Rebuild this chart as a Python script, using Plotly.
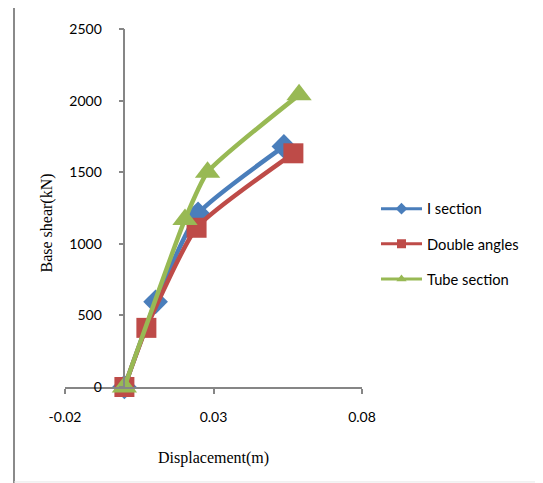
import plotly.graph_objects as go

# ---- data ----
series_names = ["I section", "Double angles", "Tube section"]
i_disp = [0.0, 0.0105, 0.0248, 0.0537]
i_shear = [0, 595, 1210, 1680]
da_disp = [0.0, 0.0074, 0.0243, 0.0569]
da_shear = [0, 413, 1112, 1632]
tube_disp = [0.0, 0.0204, 0.0280, 0.0588]
tube_shear = [0, 1170, 1500, 2040]
x_ticks = [-0.02, 0.03, 0.08]
x_tick_labels = ["-0.02", "0.03", "0.08"]
y_ticks = [0, 500, 1000, 1500, 2000, 2500]

colors = ["#4A7EBB", "#BE4B48", "#98B954"]
symbols = ["diamond", "square", "triangle-up"]
sizes = [19, 20, 22]

xs = [i_disp, da_disp, tube_disp]
ys = [i_shear, da_shear, tube_shear]

fig = go.Figure()
for name, x, y, c, s, sz in zip(series_names, xs, ys, colors, symbols, sizes):
    fig.add_trace(go.Scatter(
        x=x, y=y, mode="lines+markers", name=name, showlegend=False,
        line=dict(color=c, width=4.5, shape="spline", smoothing=0.5),
        marker=dict(symbol=s, size=sz, color=c, line=dict(width=0)),
        cliponaxis=False,
    ))
# legend glyphs (smaller, as in the reference)
for i, (name, c, s) in enumerate(zip(series_names, colors, symbols)):
    fig.add_trace(go.Scatter(
        x=[None], y=[None], mode="lines+markers", name=name,
        legendgroup=f"g{i}",
        line=dict(color=c, width=3),
        marker=dict(symbol=s, size=9, color=c),
    ))

axis_col = "#868686"
font_ticks = dict(family="Lato", size=14, color="#000000")

# plot area: 297 x 358 px (page body adds an 8px offset)
fig.update_layout(
    width=543, height=483,
    margin=dict(l=57, r=189, t=21, b=104),
    paper_bgcolor="white", plot_bgcolor="white",
    showlegend=True,
    legend=dict(
        x=(376 - 65) / 297, y=0.399, xanchor="left", yanchor="middle",
        font=dict(family="Lato", size=14.7, color="#000000"),
        traceorder="grouped", tracegroupgap=13,
        itemwidth=41,
        bgcolor="rgba(0,0,0,0)",
    ),
    xaxis=dict(
        range=[-0.02, 0.08], tickvals=x_ticks, ticktext=x_tick_labels,
        showline=True, linecolor=axis_col, linewidth=1.5,
        ticks="outside", ticklen=5, tickcolor=axis_col, tickwidth=1.5,
        showgrid=False, zeroline=False, tickfont=font_ticks,
        ticklabelstandoff=11,
    ),
    yaxis=dict(
        range=[0, 2500], tickvals=y_ticks,
        anchor="free", position=0.2,
        showline=True, linecolor=axis_col, linewidth=1.5,
        ticks="outside", ticklen=5, tickcolor=axis_col, tickwidth=1.5,
        showgrid=False, zeroline=False, tickfont=font_ticks,
        ticklabelstandoff=14,
    ),
    annotations=[
        dict(text="Displacement(m)", xref="paper", yref="paper",
             x=0.5, y=-0.197, xanchor="center", yanchor="middle",
             showarrow=False,
             font=dict(family="Liberation Serif", size=16, color="#000000")),
        dict(text="Base shear(kN)", xref="paper", yref="paper",
             x=-0.059, y=0.458, xanchor="center", yanchor="middle",
             textangle=-90, showarrow=False,
             font=dict(family="Liberation Serif", size=16, color="#000000")),
    ],
    shapes=[
        # outer chart border
        dict(type="line", xref="paper", yref="paper",
             x0=(14 - 65) / 297, x1=(545 - 65) / 297,
             y0=(386.7 - 4.5) / 357.4, y1=(386.7 - 4.5) / 357.4,
             line=dict(color="#8a8a8a", width=2)),
        dict(type="line", xref="paper", yref="paper",
             x0=(14 - 65) / 297, x1=(14 - 65) / 297,
             y0=(386.7 - 4.5) / 357.4, y1=(386.7 - 483) / 357.4,
             line=dict(color="#8a8a8a", width=2)),
        dict(type="line", xref="paper", yref="paper",
             x0=(14 - 65) / 297, x1=(545 - 65) / 297,
             y0=(386.7 - 481.5) / 357.4, y1=(386.7 - 481.5) / 357.4,
             line=dict(color="#e6e6e6", width=1)),
    ],
)

fig.write_html("out.html")
